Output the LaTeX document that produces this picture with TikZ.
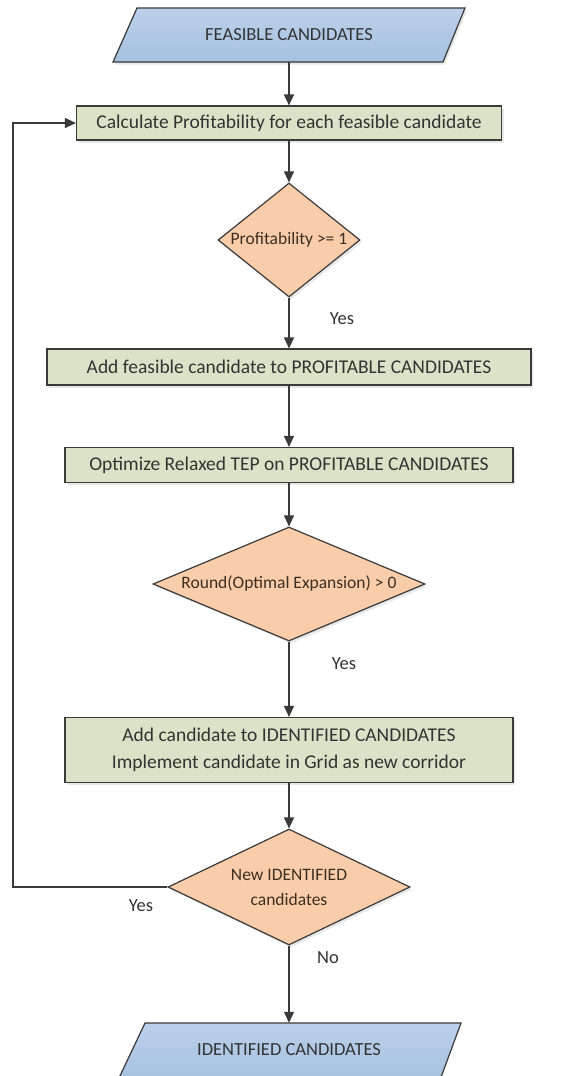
\documentclass[tikz,border=0pt]{standalone}
\usepackage{fontspec}
\setmainfont{Carlito}
\usetikzlibrary{shapes.geometric,arrows.meta,shadows}
\definecolor{ink}{HTML}{3A3A3A}
\definecolor{txt}{HTML}{333333}
\definecolor{dectxt}{HTML}{3D2E22}
\definecolor{ioblue}{HTML}{BCD0EA}
\definecolor{ioblueb}{HTML}{A6C1E1}
\definecolor{stepfill}{HTML}{DCE2C8}
\definecolor{decfill}{HTML}{F9CDA9}
\tikzset{
  soft/.style={drop shadow={opacity=0.18, shadow xshift=2pt, shadow yshift=-2.5pt}},
  stepbox/.style={draw=ink, line width=1.2pt, fill=stepfill, soft, rectangle, inner sep=0pt, text=txt, align=center, font=\fontsize{19.5}{27}\selectfont},
  decision/.style={draw=ink, line width=1.2pt, fill=decfill, soft, diamond, inner sep=0pt},
  dectext/.style={text=dectxt, align=center, inner sep=0pt, font=\fontsize{17.5}{25}\selectfont},
  iolabel/.style={rectangle, inner sep=0pt, text=txt, font=\fontsize{18.5}{20}\selectfont},
  flow/.style={draw=ink, line width=1.2pt, -{Triangle[length=11pt,width=10pt]}},
  answer/.style={text=txt, font=\fontsize{18.5}{20}\selectfont, inner sep=0pt}
}
\begin{document}
\begin{tikzpicture}[x=1pt,y=-1pt]
\useasboundingbox (0,0) rectangle (572,1076);
\fill[white] (0,0) rectangle (572,1076);

% input parallelogram
\draw[ink, line width=1.2pt, top color=ioblue, bottom color=ioblueb, soft]
  (137,8) -- (465,8) -- (443,62) -- (113,62) -- cycle;
\node[iolabel, minimum width=330pt, minimum height=54pt] (in) at (289,35) {FEASIBLE CANDIDATES};

% process steps
\node[stepbox, minimum width=425pt, minimum height=34pt] (b1) at (289,123) {Calculate Profitability for each feasible candidate};
\node[stepbox, minimum width=484pt, minimum height=36pt] (b2) at (289,367) {Add feasible candidate to PROFITABLE CANDIDATES};
\node[stepbox, minimum width=448pt, minimum height=35pt] (b3) at (289,465) {Optimize Relaxed TEP on PROFITABLE CANDIDATES};
\node[stepbox, minimum width=448pt, minimum height=65pt] (b4) at (289,750) {Add candidate to IDENTIFIED CANDIDATES\\Implement candidate in Grid as new corridor};

% decisions
\node[decision, minimum width=142pt, minimum height=114pt] (d1) at (289,240) {};
\node[dectext] (t1) at (d1.center) {Profitability >= 1};
\node[decision, minimum width=272pt, minimum height=114pt] (d2) at (289,584) {};
\node[dectext] (t2) at (d2.center) {Round(Optimal Expansion) > 0};
\node[decision, minimum width=242pt, minimum height=116pt] (d3) at (289,887) {};
\node[dectext] (t3) at (d3.center) {New IDENTIFIED\\candidates};

% output parallelogram
\draw[ink, line width=1.2pt, top color=ioblue, bottom color=ioblueb]
  (145,1023) -- (461,1023) -- (440,1080) -- (118,1080) -- cycle;
\node[iolabel, minimum width=320pt, minimum height=54pt] (out) at (289,1050) {IDENTIFIED CANDIDATES};

% connectors
\draw[flow] (in.south) -- (b1.north);
\draw[flow] (b1.south) -- (d1.north);
\draw[flow] (d1.south) -- (b2.north);
\draw[flow] (b2.south) -- (b3.north);
\draw[flow] (b3.south) -- (d2.north);
\draw[flow] (d2.south) -- (b4.north);
\draw[flow] (b4.south) -- (d3.north);
\draw[flow] (d3.south) -- (out.north);
\coordinate (loopx) at (13,0);
\draw[flow] (d3.west) -- (d3.west -| loopx) |- (b1.west);

% branch labels
\node[answer] (y1) at (342,319) {Yes};
\node[answer] (y2) at (344,664) {Yes};
\node[answer] (y3) at (141,906) {Yes};
\node[answer] (n3) at (328,958) {No};
\end{tikzpicture}
\end{document}
